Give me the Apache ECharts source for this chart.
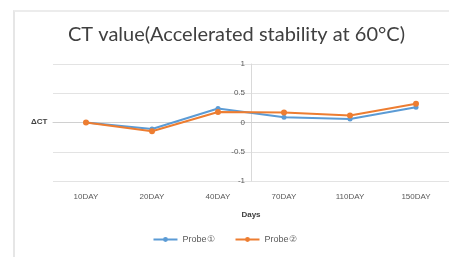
<!DOCTYPE html>
<html>
<head>
<meta charset="utf-8">
<script src="https://cdn.jsdelivr.net/npm/echarts@6/dist/echarts.min.js"></script>
<style>
  html, body { margin: 0; padding: 0; background: #fff; }
  #frame { position: absolute; left: 13px; top: 10px; width: 436px; height: 247px;
           border-left: 2px solid #e6e6e6; border-top: 2px solid #ececec; }
  #chart { position: absolute; left: 0; top: 0; width: 449px; height: 257px; }
</style>
</head>
<body>
<div id="frame"></div>
<div id="chart"></div>
<script>
var days = ['10DAY', '20DAY', '40DAY', '70DAY', '110DAY', '150DAY'];
var probe1 = [0, -0.11, 0.24, 0.09, 0.06, 0.26];
var probe2 = [0, -0.15, 0.18, 0.17, 0.12, 0.32];
var yTicks = [-1, -0.5, 0, 0.5, 1];

var myChart = echarts.init(document.getElementById('chart'));
var option = {
    animation: false,
    title: {
        text: 'CT value(Accelerated stability at 60°C)',
        left: 63,
        top: 20,
        textStyle: { fontFamily: 'Lato', fontSize: 20, fontWeight: 'normal', color: '#404040' }
    },
    legend: {
        bottom: 8,
        left: 'center',
        itemWidth: 24,
        itemHeight: 6,
        itemGap: 20,
        textStyle: { fontSize: 9, color: '#595959' },
        data: ['Probe①', 'Probe②']
    },
    graphic: [{
        type: 'text', left: 31, top: 118,
        style: { text: 'ΔCT', font: 'bold 8px sans-serif', fill: '#404040' }
    }],
    grid: { left: 53, right: 0, top: 64, bottom: 76 },
    xAxis: {
        type: 'category',
        data: days,
        name: 'Days',
        nameLocation: 'middle',
        nameGap: 30,
        nameTextStyle: { fontSize: 8, fontWeight: 'bold', color: '#404040' },
        axisLine: { lineStyle: { color: '#d0d0d0' } },
        axisTick: { show: false },
        axisLabel: { fontSize: 8, color: '#595959', margin: 12 }
    },
    yAxis: {
        type: 'value',
        min: -1, max: 1, interval: 0.5,
        offset: -198,
        axisLine: { show: true, lineStyle: { color: '#d9d9d9' } },
        axisTick: { show: false },
        axisLabel: { fontSize: 8, color: '#595959', margin: 6,
            formatter: function (v) { return yTicks.indexOf(v) >= 0 ? String(v) : ''; } },
        splitLine: { lineStyle: { color: '#e3e3e3' } }
    },
    series: [
        {
            name: 'Probe①', type: 'line', data: probe1,
            symbol: 'circle', symbolSize: 5,
            lineStyle: { width: 2, color: '#5b9bd5' },
            itemStyle: { color: '#5b9bd5' }
        },
        {
            name: 'Probe②', type: 'line', data: probe2,
            symbol: 'circle', symbolSize: 6,
            lineStyle: { width: 2, color: '#ed7d31' },
            itemStyle: { color: '#ed7d31' }
        }
    ]
};
myChart.setOption(option);
</script>
</body>
</html>
